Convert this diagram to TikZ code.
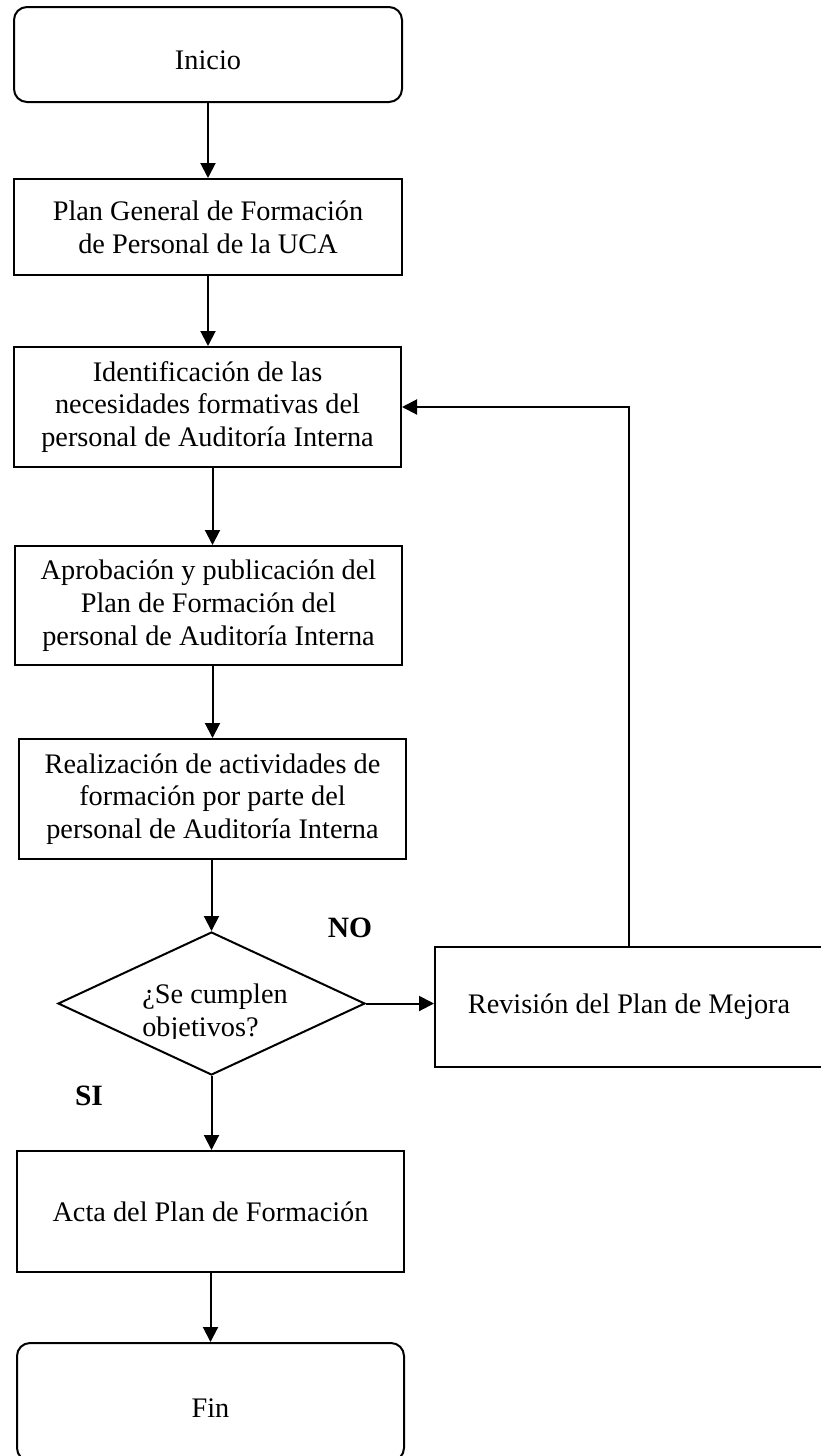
\documentclass[tikz,border=0pt]{standalone}
\usepackage{fontspec}
\setmainfont{Liberation Serif}
\usetikzlibrary{arrows.meta,shapes.geometric}

\begin{document}
\begin{tikzpicture}[x=1pt,y=-1pt,
  every node/.style={font=\fontsize{28.3}{32.7}\selectfont},
  stepbox/.style={draw, line width=2pt, inner sep=0pt, align=center},
  endbox/.style={stepbox, rounded corners=13pt, text height=30pt, text depth=0pt},
  decision/.style={draw, diamond, line width=2pt, inner sep=0pt},
  answer/.style={font=\fontsize{29.5}{32}\selectfont\bfseries, inner sep=0pt},
  flow/.style={line width=2pt, -{Triangle[length=15pt,width=15pt]}},
]
\useasboundingbox (0,0) rectangle (821,1456);

% process steps
\node[endbox, minimum width=388pt, minimum height=95pt] (inicio) at (208,54.5) {Inicio};
\node[stepbox, minimum width=388pt, minimum height=96pt] (plan) at (208,227)
  {Plan General de Formación\\de Personal de la UCA};
\node[stepbox, minimum width=387pt, minimum height=120pt] (ident) at (207.5,407)
  {Identificación de las\\necesidades formativas del\\personal de Auditoría Interna};
\node[stepbox, minimum width=387pt, minimum height=119pt] (aprob) at (208.5,605.5)
  {Aprobación y publicación del\\Plan de Formación del\\personal de Auditoría Interna};
\node[stepbox, minimum width=387pt, minimum height=120pt] (real) at (212.5,799)
  {Realización de actividades de\\formación por parte del\\personal de Auditoría Interna};

% decision; its text box cuts off the bottom of the second line
\node[decision, minimum width=307pt, minimum height=143pt] (dec) at (211.5,1003.5) {};
\begin{scope}
  \clip (0,0) rectangle (821,1038);
  \node[align=left, inner sep=0pt, font=\fontsize{28.3}{33.5}\selectfont] (dectxt) at (215,1013)
    {¿Se cumplen\\objetivos?};
\end{scope}

\node[stepbox, minimum width=388pt, minimum height=120pt] (rev) at (629,1007)
  {Revisión del Plan de Mejora};
\node[stepbox, minimum width=387pt, minimum height=121pt] (acta) at (210.5,1211.5)
  {Acta del Plan de Formación};
\node[endbox, minimum width=387pt, minimum height=118pt] (fin) at (210.5,1402) {Fin};

% branch labels
\node[answer] (no) at (350,928) {NO};
\node[answer] (si) at (89,1096) {SI};

% connectors
\draw[flow] (inicio.south) -- (plan.north);
\draw[flow] (plan.south) -- (plan.south |- ident.north);
\draw[flow] (ident.south -| real.north) -- (aprob.north -| real.north);
\draw[flow] (aprob.south -| real.north) -- (real.north);
\draw[flow] (real.south -| dec.north) -- (dec.north);
\draw[flow] (dec.east) -- (dec.east -| rev.west);
\draw[flow] (rev.north) |- (ident.east);
\draw[flow] (dec.south) -- (dec.south |- acta.north);
\draw[flow] (acta.south) -- (fin.north);
\end{tikzpicture}
\end{document}
